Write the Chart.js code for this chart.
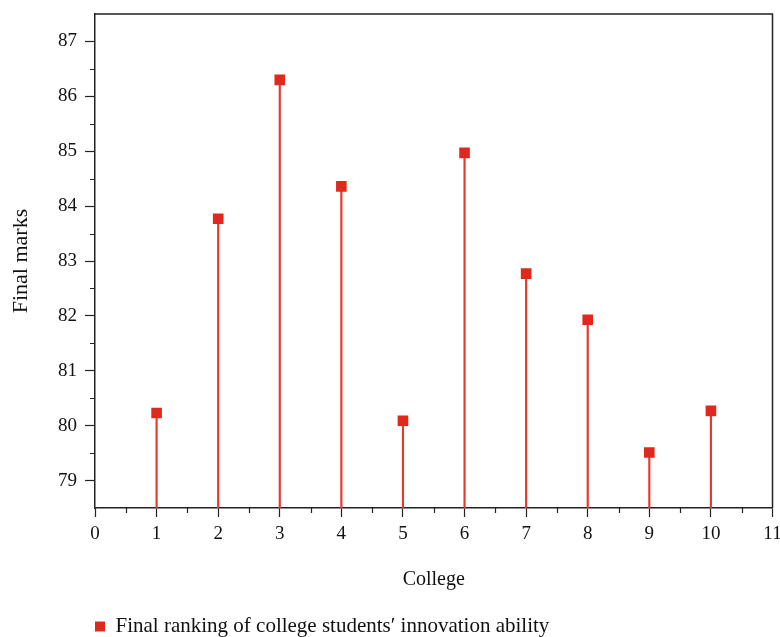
<!DOCTYPE html>
<html>
<head>
<meta charset="utf-8">
<script src="https://cdn.jsdelivr.net/npm/chart.js@4.4.1/dist/chart.umd.min.js"></script>
<style>
  html, body { margin: 0; padding: 0; background: #fff; }
  #wrap { width: 780px; height: 637px; }
</style>
</head>
<body>
<div id="wrap"><canvas id="stemChart"></canvas></div>
<script>
// data
var colleges = [1, 2, 3, 4, 5, 6, 7, 8, 9, 10];
var finalMarks = [80.23, 83.77, 86.30, 84.36, 80.09, 84.97, 82.77, 81.93, 79.51, 80.27];
var xTickValues = [0, 1, 2, 3, 4, 5, 6, 7, 8, 9, 10, 11];
var yTickValues = [79, 80, 81, 82, 83, 84, 85, 86, 87];
var xMinorValues = [0.5, 1.5, 2.5, 3.5, 4.5, 5.5, 6.5, 7.5, 8.5, 9.5, 10.5];
var yMinorValues = [79.5, 80.5, 81.5, 82.5, 83.5, 84.5, 85.5, 86.5];
var seriesLabel = 'Final ranking of college students\u2032 innovation ability';
var xMin = 0, xMax = 11, yMin = 78.5, yMax = 87.5;

var red = '#e0281c';
var serif = '"Liberation Serif", "DejaVu Serif", serif';

var points = colleges.map(function (c, i) { return { x: c, y: finalMarks[i] }; });

// minor ticks + top/right frame
var frameAndMinor = {
    id: 'frameAndMinor',
    afterDraw: function (chart) {
        var ctx = chart.ctx, a = chart.chartArea;
        var xs = chart.scales.x, ys = chart.scales.y;
        ctx.save();
        ctx.strokeStyle = '#222';
        ctx.lineWidth = 1.2;
        ctx.beginPath();
        xMinorValues.forEach(function (v) {
            var px = Math.round(xs.getPixelForValue(v)) + 0.5;
            ctx.moveTo(px, a.bottom);
            ctx.lineTo(px, a.bottom + 5);
        });
        yMinorValues.forEach(function (v) {
            var py = Math.round(ys.getPixelForValue(v)) + 0.5;
            ctx.moveTo(a.left, py);
            ctx.lineTo(a.left - 5, py);
        });
        ctx.stroke();
        ctx.lineWidth = 1.5;
        ctx.beginPath();
        ctx.moveTo(a.left, a.top);
        ctx.lineTo(a.right, a.top);
        ctx.lineTo(a.right, a.bottom);
        ctx.stroke();
        ctx.restore();
    }
};

var ctx = document.getElementById('stemChart').getContext('2d');
var stemChart = new Chart(ctx, {
    type: 'bar',
    data: {
        datasets: [{
            type: 'scatter',
            label: seriesLabel,
            data: points,
            pointStyle: 'rect',
            pointRadius: 7.5,
            pointHoverRadius: 7.5,
            backgroundColor: red,
            borderColor: red,
            borderWidth: 0,
        }, {
            type: 'bar',
            label: 'stems',
            data: points,
            base: yMin,
            barThickness: 1.5,
            backgroundColor: '#e43a2e',
            borderWidth: 0,
        }]
    },
    options: {
        responsive: true,
        maintainAspectRatio: false,
        animation: false,
        layout: { padding: { left: 0, right: 7, top: 14, bottom: -10 } },
        plugins: {
            tooltip: { enabled: false },
            legend: {
                position: 'bottom',
                align: 'start',
                fullSize: false,
                labels: {
                    filter: function (item) { return item.datasetIndex === 0; },
                    boxWidth: 10,
                    boxHeight: 10,
                    padding: 0,
                    color: '#111',
                    font: { family: serif, size: 21 }
                }
            }
        },
        scales: {
            x: {
                type: 'linear',
                offset: false,
                min: xMin,
                max: xMax,
                afterBuildTicks: function (scale) {
                    scale.ticks = xTickValues.map(function (v) { return { value: v }; });
                },
                afterFit: function (scale) {
                    scale.height = 108;
                    scale.paddingLeft = 0;
                    scale.paddingRight = 0;
                },
                ticks: {
                    autoSkip: false,
                    maxRotation: 0,
                    padding: 6,
                    color: '#111',
                    font: { family: serif, size: 19 }
                },
                grid: {
                    offset: false,
                    drawOnChartArea: false,
                    drawTicks: true,
                    tickLength: 9,
                    tickWidth: 1.2,
                    tickColor: '#222'
                },
                border: { color: '#222', width: 1.5 },
                title: {
                    display: true,
                    text: 'College',
                    color: '#111',
                    padding: { top: 4, bottom: 24 },
                    font: { family: serif, size: 20 }
                }
            },
            y: {
                type: 'linear',
                min: yMin,
                max: yMax,
                afterBuildTicks: function (scale) {
                    scale.ticks = yTickValues.map(function (v) { return { value: v }; });
                },
                afterFit: function (scale) {
                    scale.width = 95;
                    scale.paddingTop = 0;
                    scale.paddingBottom = 0;
                },
                ticks: {
                    padding: 8,
                    color: '#111',
                    font: { family: serif, size: 19 }
                },
                grid: {
                    drawOnChartArea: false,
                    drawTicks: true,
                    tickLength: 10,
                    tickWidth: 1.2,
                    tickColor: '#222'
                },
                border: { color: '#222', width: 1.5 },
                title: {
                    display: true,
                    text: 'Final marks',
                    color: '#111',
                    padding: { top: 8, bottom: 0 },
                    font: { family: serif, size: 22 }
                }
            }
        }
    },
    plugins: [frameAndMinor]
});
</script>
</body>
</html>
